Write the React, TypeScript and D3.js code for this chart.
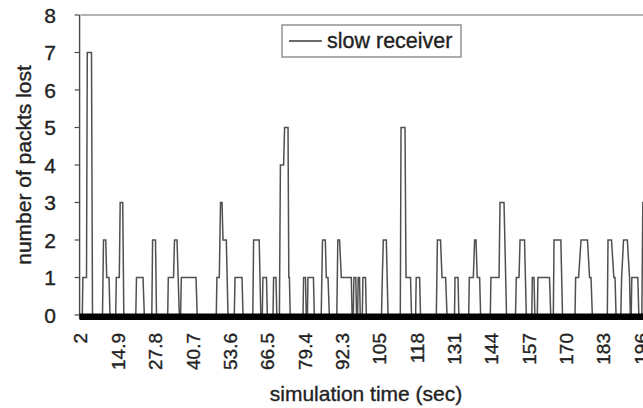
import React from 'react';
import * as d3 from 'd3';

// simulation time (sec) of each vertex of the loss trace
const TIME_SEC = [
  2,
  2.59, 2.79, 4.04, 4.31, 5.76, 6.11,
  9.56, 9.91, 10.7, 11.01, 11.81, 12.15,
  14.12, 14.33, 15.36, 15.67, 16.54, 16.92,
  21.06, 21.3, 23.55, 24.0,
  26.59, 26.86, 27.86, 28.21,
  32.08, 32.28, 34.08, 34.42, 35.29, 36.08, 36.53, 36.77, 41.85, 42.26,
  48.86, 49.07, 49.89, 50.31, 50.83, 51.17, 52.31, 52.9,
  55.07, 55.32, 57.73, 58.08,
  61.46, 61.74, 63.67, 64.22,
  64.74, 64.95, 66.19, 66.47,
  68.44, 68.64, 69.47, 69.75,
  70.65, 70.99, 72.1, 72.44, 73.62, 73.89, 74.1, 74.38,
  78.8, 79.0, 79.66, 79.9, 80.31, 80.52, 82.39, 82.7,
  85.08, 85.53, 86.5, 86.84, 87.43, 87.88,
  90.47, 90.81, 91.43, 92.02, 95.47, 95.75, 96.16, 96.37, 97.03, 97.27, 97.65, 97.86, 98.31, 98.55, 99.27, 99.48, 100.38, 100.65,
  105.9, 106.18, 106.52, 107.56, 108.15,
  112.39, 112.64, 114.02, 114.36, 115.92, 116.26, 117.68, 117.88, 119.06, 119.37,
  124.83, 125.2, 126.28, 126.79, 128.04, 128.52,
  131.11, 131.28, 132.32, 132.59,
  136.01, 136.22, 137.6, 138.05, 138.53, 138.95, 139.78, 140.12,
  143.47, 143.68, 146.48, 146.82, 148.2, 149.07,
  152.17, 152.45, 153.38, 153.73, 155.28, 155.9,
  157.8, 157.97, 158.56, 158.84, 159.7, 159.91, 163.91, 164.33,
  165.23, 165.47, 167.82, 168.4,
  172.72, 172.93, 173.96, 174.79, 177.03, 177.73, 178.24, 178.69,
  183.87, 184.11, 185.32, 186.12, 186.53, 186.88,
  188.53, 188.81, 189.47, 190.78, 191.54, 191.81, 192.12, 192.33, 194.4, 194.75, 195.79, 196.13, 197.6, 198.0, 200,
];

// number of packets lost at each vertex
const PACKETS_LOST = [
  0,
  0, 1, 1, 7, 7, 0,
  0, 2, 2, 1, 1, 0,
  0, 1, 1, 3, 3, 0,
  0, 1, 1, 0,
  0, 2, 2, 0,
  0, 1, 1, 2, 2, 0, 0, 1, 1, 0,
  0, 1, 1, 3, 3, 2, 2, 0,
  0, 1, 1, 0,
  0, 2, 2, 0,
  0, 1, 1, 0,
  0, 1, 1, 0,
  0, 4, 4, 5, 5, 1, 1, 0,
  0, 1, 1, 0, 0, 1, 1, 0,
  0, 2, 2, 1, 1, 0,
  0, 2, 2, 1, 1, 0, 0, 1, 1, 0, 0, 1, 1, 0, 0, 1, 1, 0,
  0, 1, 2, 2, 0,
  0, 5, 5, 1, 1, 0, 0, 1, 1, 0,
  0, 2, 2, 1, 1, 0,
  0, 1, 1, 0,
  0, 1, 1, 2, 2, 1, 1, 0,
  0, 1, 1, 3, 3, 0,
  0, 1, 1, 2, 2, 0,
  0, 1, 1, 0, 0, 1, 1, 0,
  0, 2, 2, 0,
  0, 1, 1, 2, 2, 1, 1, 0,
  0, 2, 2, 1, 1, 0,
  0, 1, 2, 2, 1, 0, 0, 1, 1, 0, 0, 3, 3, 0, 0,
];

const Y_TICKS = [0, 1, 2, 3, 4, 5, 6, 7, 8];
const X_TICK_VALUES = [2, 14.9, 27.8, 40.7, 53.6, 66.5, 79.4, 92.3, 105.2, 118.1, 131, 143.9, 156.8, 169.7, 182.6, 195.5];
const X_TICK_LABELS = ['2', '14.9', '27.8', '40.7', '53.6', '66.5', '79.4', '92.3', '105', '118', '131', '144', '157', '170', '183', '196'];
const SERIES_NAME = 'slow receiver';
const X_TITLE = 'simulation time (sec)';
const Y_TITLE = 'number of packts lost';

const W = 643;
const H = 408;
const FONT = "'Liberation Sans', Arial, Helvetica, sans-serif";

export default function App() {
  const x = d3.scaleLinear().domain([2, 195.5]).range([80.6, 641]);
  const y = d3.scaleLinear().domain([0, 8]).range([315, 15]);
  const pts: [number, number][] = TIME_SEC.map((t, i) => [t, PACKETS_LOST[i]]);
  const line = d3
    .line<[number, number]>()
    .x((d) => x(d[0]))
    .y((d) => y(d[1]));
  const x0 = x(2);
  const textColor = '#222';
  const halo = { stroke: '#222', strokeWidth: 0.35 };

  return (
    <svg
      width={W}
      height={H}
      viewBox={`0 0 ${W} ${H}`}
      style={{ position: 'absolute', left: 0, top: 0, background: '#fff' }}
      fontFamily={FONT}
    >
      <rect x={0} y={0} width={W} height={H} fill="#fff" />
      {/* plot top border */}
      <line x1={x0} x2={W + 10} y1={y(8)} y2={y(8)} stroke="#9a9a9a" strokeWidth={1.6} />
      {/* y axis */}
      <line x1={x0 - 1} x2={x0 - 1} y1={y(8)} y2={y(0) + 4} stroke="#4a4a4a" strokeWidth={1.4} />
      {Y_TICKS.map((v) => (
        <g key={v}>
          <line x1={x0 - 6} x2={x0 - 1} y1={y(v)} y2={y(v)} stroke="#4a4a4a" strokeWidth={1.2} />
          <text x={56} y={y(v)} dy="0.36em" textAnchor="end" fontSize={21} fill={textColor} {...halo}>
            {v}
          </text>
        </g>
      ))}
      {/* data trace */}
      <path d={line(pts) || ''} fill="none" stroke="#505050" strokeWidth={1.5} strokeLinejoin="miter" />
      {/* heavy baseline at zero */}
      <rect x={x0 - 1} y={y(0) - 1.5} width={W} height={6.5} fill="#000" />
      {/* x tick labels */}
      {X_TICK_VALUES.map((v, i) => (
        <text
          key={v}
          transform={`translate(${x(v)},333) rotate(-90)`}
          dy="0.36em"
          textAnchor="end"
          fontSize={19}
          fill={textColor}
          {...halo}
        >
          {X_TICK_LABELS[i]}
        </text>
      ))}
      {/* axis titles */}
      <text x={366} y={401} textAnchor="middle" fontSize={21} fill={textColor} {...halo}>
        {X_TITLE}
      </text>
      <text transform="translate(23,165) rotate(-90)" dy="0.36em" textAnchor="middle" fontSize={21} fill={textColor} {...halo}>
        {Y_TITLE}
      </text>
      {/* legend */}
      <rect x={282} y={25} width={179} height={32} fill="#fff" stroke="#8a8a8a" strokeWidth={1.4} />
      <line x1={289} x2={322} y1={41} y2={41} stroke="#3a3a3a" strokeWidth={1.3} />
      <text x={327} y={48} fontSize={21.5} fill={textColor} {...halo}>
        {SERIES_NAME}
      </text>
    </svg>
  );
}
